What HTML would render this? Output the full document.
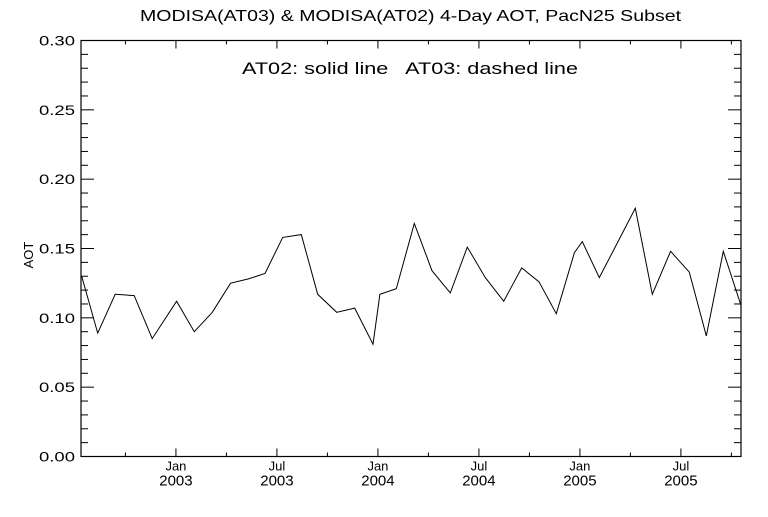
<!DOCTYPE html>
<html><head><meta charset="utf-8"><style>
body{margin:0;background:#fff;}
svg text{font-family:"Liberation Sans",sans-serif;fill:#000;}
</style></head><body>
<svg id="chart" width="768" height="512" viewBox="0 0 768 512" xmlns="http://www.w3.org/2000/svg">
<rect width="768" height="512" fill="#fff"/>
<text x="140" y="21" font-size="16" textLength="541" lengthAdjust="spacingAndGlyphs">MODISA(AT03) &amp; MODISA(AT02) 4-Day AOT, PacN25 Subset</text>
<text x="242" y="74" font-size="17" textLength="336" lengthAdjust="spacingAndGlyphs" xml:space="preserve">AT02: solid line   AT03: dashed line</text>
<text transform="translate(33,255) rotate(-90)" font-size="13" text-anchor="middle">AOT</text>
<g id="axes"></g>
<g id="series"></g>
</svg>
<script>
// months since Jan 2003
const months = [-5.6,-4.65,-3.61,-2.48,-1.41,0.04,1.09,2.16,3.25,4.28,5.29,6.34,7.45,8.42,9.55,10.62,11.71,12.12,13.09,14.16,15.21,16.30,17.31,18.38,19.47,20.54,21.57,22.60,23.67,24.14,25.15,26.22,27.29,28.30,29.39,30.50,31.51,32.52,33.57];
const at02 = [0.130,0.089,0.117,0.116,0.085,0.112,0.090,0.104,0.125,0.128,0.132,0.158,0.160,0.117,0.104,0.107,0.081,0.117,0.121,0.168,0.134,0.118,0.151,0.129,0.112,0.136,0.126,0.103,0.147,0.155,0.129,0.154,0.179,0.117,0.148,0.133,0.087,0.148,0.109];
const yTicks = [0.00,0.05,0.10,0.15,0.20,0.25,0.30];
const yLabels = ["0.00","0.05","0.10","0.15","0.20","0.25","0.30"];
const xTicks = [0,6,12,18,24,30];
const xLabels = [["Jan","2003"],["Jul","2003"],["Jan","2004"],["Jul","2004"],["Jan","2005"],["Jul","2005"]];

const L=81,R=741,T=40.5,B=456.5, X0=-5.64, X1=33.57, Y0=0, Y1=0.30;
const sx=m=>L+(m-X0)/(X1-X0)*(R-L);
const sy=v=>B-(v-Y0)/(Y1-Y0)*(B-T);
const NS="http://www.w3.org/2000/svg";
const axes=document.getElementById('axes');
function mk(tag,attrs,parent){const e=document.createElementNS(NS,tag);for(const k in attrs)e.setAttribute(k,attrs[k]);parent.appendChild(e);return e;}
const frame=mk('rect',{x:L,y:T,width:R-L,height:B-T,fill:'none',stroke:'#000','stroke-width':1.2},axes);


function line(x1,y1,x2,y2){const l=mk('line',{x1,y1,x2,y2,stroke:'#000','stroke-width':1},axes);return l;}
for(let i=0;i<=30;i++){const v=i/100,y=sy(v),len=(i%5===0)?13:7;
  const a=line(L,y,L+len,y);
  const b=line(R,y,R-len,y);}
yTicks.forEach((v,i)=>{const t=mk('text',{x:L-42,y:sy(v)+5,'font-size':14,textLength:36,lengthAdjust:'spacingAndGlyphs'},axes);t.textContent=yLabels[i];
  });
for(let m=-3;m<=X1;m+=3){const x=sx(m),len=(m%6===0)?8:4;
  const a=line(x,B,x,B-len);
  const b=line(x,T,x,T+len);}
xTicks.forEach((m,i)=>{const x=sx(m);
  const t1=mk('text',{x:x,y:B+14,'font-size':13,'text-anchor':'middle'},axes);t1.textContent=xLabels[i][0];
  
  const t2=mk('text',{x:x,y:B+29,'font-size':15,'text-anchor':'middle'},axes);t2.textContent=xLabels[i][1];
  });
const ser=document.getElementById('series');
const cp=mk('clipPath',{id:'clip'},ser);mk('rect',{x:L,y:T,width:R-L,height:B-T},cp);
const pts=months.map((m,i)=>sx(m).toFixed(1)+','+sy(at02[i]).toFixed(1)).join(' ');
const pl=mk('polyline',{points:pts,fill:'none',stroke:'#000','stroke-width':1,'clip-path':'url(#clip)'},ser);


</script>
</body></html>
